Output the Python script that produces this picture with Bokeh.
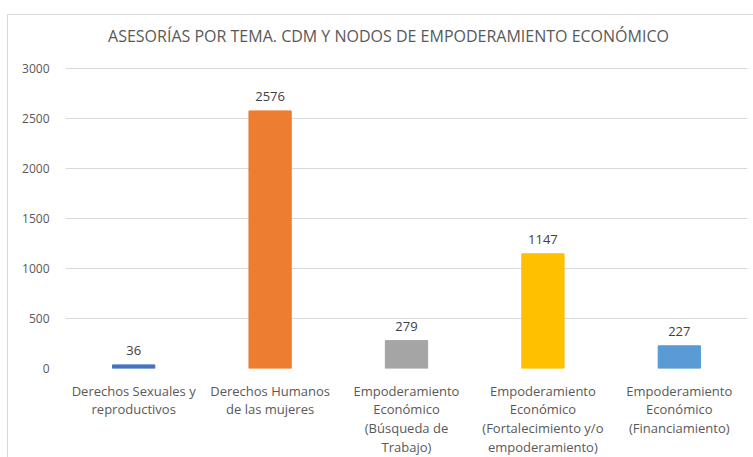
from bokeh.plotting import figure
from bokeh.models import ColumnDataSource, FixedTicker, Label
from bokeh.embed import file_html
from bokeh.resources import INLINE
from bokeh.core.properties import value

title_text = "ASESORÍAS POR TEMA. CDM Y NODOS DE EMPODERAMIENTO ECONÓMICO"
categories = [
    "Derechos Sexuales y\nreproductivos",
    "Derechos Humanos\nde las mujeres",
    "Empoderamiento\nEconómico\n(Búsqueda de\nTrabajo)",
    "Empoderamiento\nEconómico\n(Fortalecimiento y/o\nempoderamiento)",
    "Empoderamiento\nEconómico\n(Financiamiento)",
]
values = [36, 2576, 279, 1147, 227]
colors = ["#4472C4", "#ED7D31", "#A5A5A5", "#FFC000", "#5B9BD5"]
y_ticks = [0, 500, 1000, 1500, 2000, 2500, 3000]

FONT = "Open Sans"
TXT = "#595959"

src = ColumnDataSource(dict(x=categories, top=values, color=colors,
                            label=[str(v) for v in values]))

# frame extends to the top of the figure so the title can sit inside it;
# 300 px per 3000 units, 53 px of headroom above the 3000 gridline
p = figure(x_range=categories, y_range=(0, 3530),
           frame_width=682, frame_height=353,
           output_backend="svg", toolbar_location=None,
           min_border_left=57, min_border_right=6, min_border_top=0,
           min_border_bottom=10)
p.title = None

p.vbar(x="x", top="top", width=0.31, color="color", source=src)
p.text(x="x", y="top", text="label", source=src, text_align="center",
       text_baseline="bottom", y_offset=-10, text_font=value(FONT),
       text_font_size="13px", text_color="#404040")

title = Label(x=323, y=333, x_units="screen", y_units="screen", text=title_text,
              text_align="center", text_baseline="middle", text_font=FONT,
              text_font_size="16px", text_color=TXT)
p.add_layout(title)

p.outline_line_color = None
p.xgrid.grid_line_color = None
p.ygrid.grid_line_color = "#d9d9d9"
p.ygrid.grid_line_width = 1
p.yaxis.ticker = FixedTicker(ticks=y_ticks)
for ax in (p.xaxis, p.yaxis):
    ax.axis_line_color = None
    ax.major_tick_line_color = None
    ax.minor_tick_line_color = None
    ax.major_label_text_font = FONT
    ax.major_label_text_color = TXT
p.yaxis.major_label_text_font_size = "12px"
p.xaxis.major_label_text_font_size = "13px"
p.xaxis.major_label_text_line_height = 1.04
p.yaxis.major_label_standoff = 10
p.xaxis.major_label_standoff = 7
p.styles = {"border-left": "1px solid #d9d9d9", "border-top": "1px solid #d9d9d9",
            "margin-left": "7px", "margin-top": "14px"}

open("out.html", "w").write(file_html(p, INLINE))
